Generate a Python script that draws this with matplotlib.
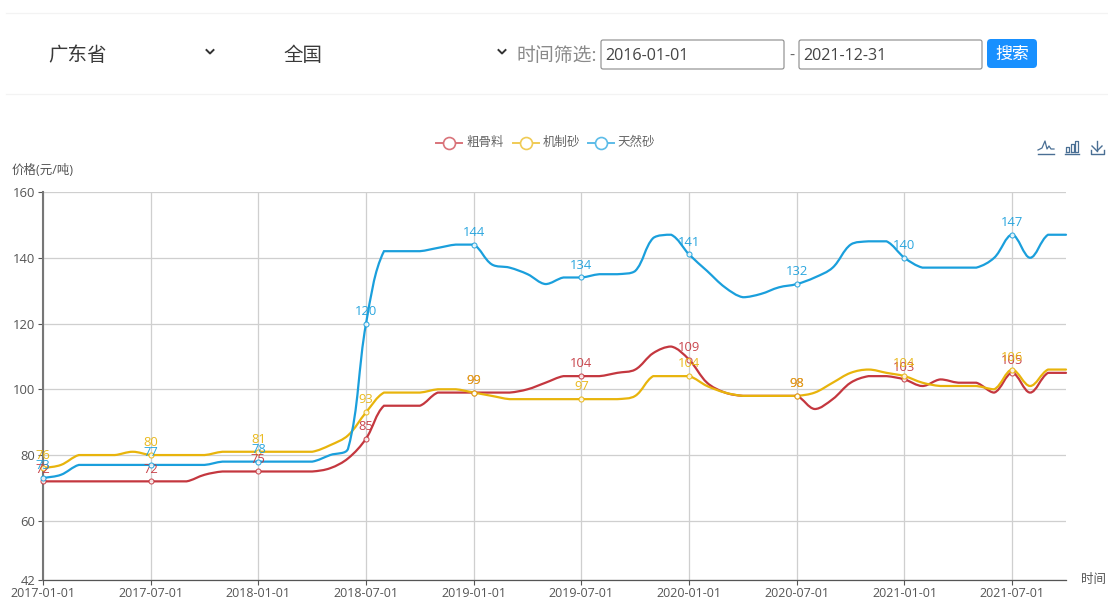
import numpy as np
import matplotlib
matplotlib.use("Agg")
import matplotlib.pyplot as plt
from matplotlib.path import Path
from matplotlib.patches import PathPatch, FancyBboxPatch

plt.rcParams['font.family'] = ['Open Sans', 'Noto Sans CJK SC', 'DejaVu Sans']

# ---- data (monthly, 2017-01 .. 2021-10)
series_names = ['粗骨料', '机制砂', '天然砂']
coarse = [72,72,72,72,72,72,72,72,72,74,75,75,75,75,75,75,76,79,85,95,95,95,99,99,99,99,99,100,102,104,
          104,104,105,106,111,113,109,102,99,98,98,98,98,94,97,102,104,104,103,101,103,102,102,99,105,99,105,105]
machine = [76,77,80,80,80,81,80,80,80,80,81,81,81,81,81,81,83,86,93,99,99,99,100,100,99,98,97,97,97,97,
           97,97,97,98,104,104,104,101,99,98,98,98,98,99,102,105,106,105,104,102,101,101,101,100,106,101,106,106]
natural = [73,74,77,77,77,77,77,77,77,77,78,78,78,78,78,78,80,82,120,142,142,142,143,144,144,138,137,135,132,134,
           134,135,135,136,146,147,141,136,131,128,129,131,132,134,137,144,145,145,140,137,137,137,137,140,147,140,147,147]
tick_labels = ['2017-01-01','2017-07-01','2018-01-01','2018-07-01','2019-01-01','2019-07-01',
               '2020-01-01','2020-07-01','2021-01-01','2021-07-01']
y_ticks = [42, 60, 80, 100, 120, 140, 160]
colors = ['#c4373f', '#e8b40c', '#1a9fdc']
legend_colors = ['#d9737a', '#f0cb55', '#5cbce8']

W, H = 1108, 599
fig = plt.figure(figsize=(W/100, H/100), dpi=100, facecolor='white')
L, R, T, B = 43, 1066, 192, 580
ax = fig.add_axes([L/W, 1-B/H, (R-L)/W, (B-T)/H], facecolor='none', zorder=2)
px_x = (R-L)/57
px_y = (B-T)/118


def smooth_path(y, s=0.35):
    """ECharts-like bezier smoothing with control points clamped between neighbours."""
    y = np.asarray(y, float)
    n = len(y)
    verts = [(0, y[0])]
    codes = [Path.MOVETO]
    cps_in, cps_out = [None]*n, [None]*n
    for i in range(n):
        p = i-1 if i > 0 else i
        q = i+1 if i < n-1 else i
        vx, vy = (q-p)*s, (y[q]-y[p])*s
        dp = np.hypot((i-p)*px_x, (y[i]-y[p])*px_y)
        dn = np.hypot((q-i)*px_x, (y[q]-y[i])*px_y)
        r = dn/(dp+dn) if dp+dn else .5
        cx0, cy0 = i-vx*(1-r), y[i]-vy*(1-r)
        cx1, cy1 = i+vx*r, y[i]+vy*r
        cy0 = np.clip(cy0, min(y[p], y[i]), max(y[p], y[i]))
        cy1 = np.clip(cy1, min(y[q], y[i]), max(y[q], y[i]))
        cps_in[i], cps_out[i] = (cx0, cy0), (cx1, cy1)
    for i in range(1, n):
        verts += [cps_out[i-1], cps_in[i], (i, y[i])]
        codes += [Path.CURVE4]*3
    return Path(verts, codes)


ax.set_xlim(0, 57)
ax.set_ylim(42, 160)
label_idx = np.arange(0, 58, 6)
all_series = [coarse, machine, natural]
for sy, c, z in zip(all_series, colors, [3, 4, 5]):
    ax.add_patch(PathPatch(smooth_path(sy), fc='none', ec=c, lw=1.6, zorder=z, clip_on=False, capstyle='round'))
    vals = np.array(sy)[label_idx]
    ax.plot(label_idx, vals, ls='none', marker='o', ms=3.6, mfc='white', mec=c, mew=0.8, alpha=0.85,
            zorder=z+3, clip_on=False)
    for i, v in zip(label_idx, vals):
        ax.annotate(str(v), (i, v), xytext=(0, 4.2), textcoords='offset points', ha='center', va='bottom',
                    fontsize=9.4, color=c, alpha=0.92, zorder=z+5, annotation_clip=False)

ax.set_xticks(label_idx, tick_labels)
ax.set_yticks(y_ticks)
ax.grid(True, color='#cfcfcf', lw=0.9)
ax.set_axisbelow(True)
ax.tick_params(axis='x', length=3.6, width=0.8, color='#555555', labelcolor='#555555', labelsize=9.0, pad=1.4)
ax.tick_params(axis='y', length=3.6, width=0.8, color='#555555', labelcolor='#555555', labelsize=9.4, pad=1.8)
for s in ['top', 'right']:
    ax.spines[s].set_visible(False)
ax.spines['left'].set_color('#777777')
ax.spines['left'].set_linewidth(1.5)
ax.spines['bottom'].set_color('#555555')
ax.spines['bottom'].set_linewidth(0.9)

# ---- page furniture, in pixel coordinates
ov = fig.add_axes([0, 0, 1, 1], facecolor='none', zorder=1)
ov.set_xlim(0, W)
ov.set_ylim(H, 0)
ov.axis('off')

ov.plot([6, W], [13, 13], color='#f3f3f3', lw=0.9)
ov.plot([6, W], [94, 94], color='#f3f3f3', lw=0.9)
ov.text(48, 55.5, '广东省', fontsize=14, color='#3a3a3a', va='center', ha='left')
ov.text(283, 55.5, '全国', fontsize=14, color='#3a3a3a', va='center', ha='left')
for cx in (210, 502):
    ov.plot([cx-3.5, cx, cx+3.5], [50, 53.5, 50], color='#333333', lw=1.4)
ov.text(516, 55.5, '时间筛选:', fontsize=13.6, color='#8a8a8a', va='center', ha='left')
for x0, x1, t in [(601, 784, '2016-01-01'), (799, 982, '2021-12-31')]:
    ov.add_patch(FancyBboxPatch((x0, 40), x1-x0, 29, boxstyle='round,pad=0,rounding_size=2',
                                fc='white', ec='#8a8a8a', lw=0.8))
    ov.text(x0+4, 55.5, t, fontsize=11.6, color='#444444', va='center', ha='left')
ov.text(791.5, 55.5, '-', fontsize=11.6, color='#666666', va='center', ha='center')
ov.add_patch(FancyBboxPatch((987, 39), 50, 29, boxstyle='round,pad=0,rounding_size=4',
                            fc='#1890ff', ec='none'))
ov.text(1012, 55, '搜索', fontsize=12.2, color='white', va='center', ha='center')

# legend
for (x0, x1, tx), name, c in zip([(436, 462, 466), (513, 539, 543), (588, 614, 617)], series_names, legend_colors):
    ov.plot([x0, x1], [143, 143], color=c, lw=1.4, zorder=1)
    ov.plot([(x0+x1)/2], [143], marker='o', ms=8.6, mfc='white', mec=c, mew=1.2, zorder=2)
    ov.text(tx, 142.5, name, fontsize=9.0, color='#666666', va='center', ha='left')

ov.text(12, 170.5, '价格(元/吨)', fontsize=9.0, color='#555555', va='center', ha='left')
ov.text(1081, 580, '时间', fontsize=9.0, color='#555555', va='center', ha='left')

# toolbox icons
ic = '#4a6f94'
ov.plot([1038, 1054], [153.5, 153.5], color=ic, lw=1)
ov.plot([1038, 1042, 1045, 1047, 1049, 1051, 1054], [150, 148, 141, 149, 146, 149, 149], color=ic, lw=0.9)
ov.plot([1065, 1079], [153.5, 153.5], color=ic, lw=1)
for x0, y0 in [(1066, 147), (1070.5, 144), (1075, 141)]:
    ov.plot([x0, x0, x0+3, x0+3, x0], [152, y0, y0, 152, 152], color=ic, lw=0.9)
ov.plot([1097, 1097], [141, 151], color=ic, lw=1)
ov.plot([1092, 1097, 1102], [146, 151, 146], color=ic, lw=1)
ov.plot([1091, 1091, 1104, 1104], [150, 154, 154, 150], color=ic, lw=1)

fig.savefig('out.png', dpi=100, facecolor='white')
